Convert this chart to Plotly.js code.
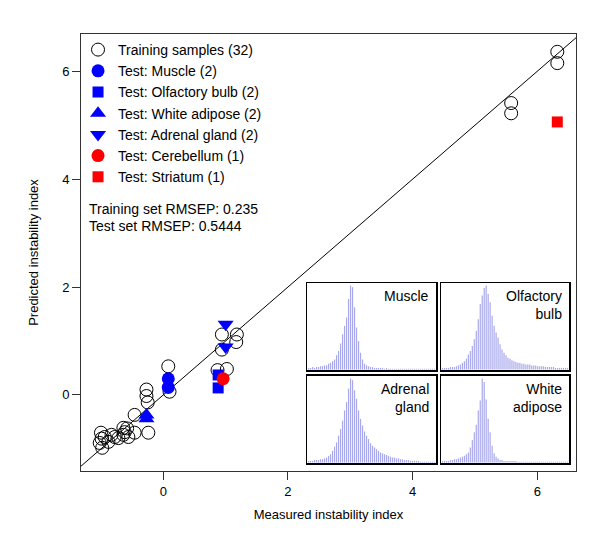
<!DOCTYPE html>
<html><head><meta charset="utf-8">
<script src="https://cdn.plot.ly/plotly-3.0.1.min.js"></script>
<style>html,body{margin:0;padding:0;background:#fff}</style>
</head><body><div id="chart" style="width:600px;height:537px"></div>
<script>
// Training samples
const trainX = [6.32, 6.32, 5.58, 5.58, 0.94, 1.18, 1.17, 0.94, 0.87, 1.02, 0.08, 0.10, -0.27, -0.27, -0.25, -0.99, -1.02, -0.98, -0.94, -0.83, -0.78, -0.88, -0.64, -0.62, -0.64, -0.56, -0.46, -0.46, -0.24, -1.00, -0.72, -0.58];
const trainY = [6.36, 6.15, 5.41, 5.22, 1.12, 1.12, 0.98, 0.84, 0.46, 0.48, 0.53, 0.06, 0.10, -0.02, -0.14, -0.81, -0.89, -0.98, -0.78, -0.74, -0.78, -0.87, -0.61, -0.69, -0.74, -0.78, -0.70, -0.37, -0.70, -0.70, -0.80, -0.62];
// Test sets
const muscleX = [0.08, 0.08];     const muscleY = [0.30, 0.14];
const olfactX = [0.88, 0.88];     const olfactY = [0.37, 0.13];
const adiposeX = [-0.27, -0.27];  const adiposeY = [-0.37, -0.44];
const adrenalX = [1.00, 1.00];    const adrenalY = [1.31, 0.89];
const cerebX = [0.96];            const cerebY = [0.30];
const striatX = [6.32];           const striatY = [5.06];
const identityLine = [-2, 8];
const rmsepLines = ['Training set RMSEP: 0.235', 'Test set RMSEP: 0.5444'];

// Inset distributions (relative heights)
const histBins = Array.from({length: 64}, (_, i) => i);
const muscleHist = [0.02,0.02,0.03,0.02,0.03,0.03,0.04,0.04,0.05,0.05,0.07,0.08,0.10,0.12,0.17,0.22,0.31,0.42,0.52,0.62,0.84,1.00,0.98,0.74,0.50,0.34,0.20,0.12,0.07,0.05,0.04,0.03,0.03,0.02,
  0.02,0.02,0.02,0.02,0.01,0.02,0.01,0.01,0.01,0.01,0.01,0.01,0.01,0.01,0.01,0.01,0.01,0.01,0.01,0.01,0.01,0.01,0.01,0.01,0.01,0.01,0.01,0.01,0.01,0.01];
const olfactHist = [0.02,0.02,0.02,0.02,0.03,0.03,0.03,0.04,0.05,0.06,0.08,0.10,0.13,0.18,0.22,0.28,0.36,0.46,0.60,0.78,0.88,0.97,1.00,0.90,0.80,0.64,0.52,0.44,0.38,0.30,0.24,0.20,0.17,0.14,0.13,0.11,0.10,0.09,0.08,0.08,0.07,0.07,0.06,0.06,0.06,0.05,0.05,0.05,0.04,0.04,0.04,0.04,0.03,0.03,0.03,0.03,0.03,0.02,0.02,0.02,0.02,0.02,0.02,0.02];
const adrenalHist = [0.02,0.02,0.02,0.03,0.03,0.03,0.04,0.04,0.05,0.06,0.08,0.10,0.14,0.19,0.24,0.32,0.40,0.50,0.62,0.72,0.88,1.00,0.98,0.86,0.76,0.62,0.52,0.44,0.37,0.32,0.28,0.23,0.20,0.18,0.16,0.14,0.12,0.11,0.10,0.09,0.08,0.07,0.06,0.06,0.05,0.05,0.04,0.04,0.03,0.03,0.03,0.02,0.02,0.02,0.02,0.02,0.01,0.01,0.01,0.01,0.01,0.01,0.01,0.01];
const adiposeHist = [0.02,0.02,0.02,0.02,0.03,0.03,0.04,0.04,0.05,0.06,0.07,0.08,0.10,0.12,0.18,0.27,0.36,0.45,0.62,0.74,1.00,0.96,0.75,0.52,0.36,0.20,0.11,0.07,0.05,0.03,0.03,0.02,
  0.02,0.02,0.02,0.02,0.02,0.02,0.01,0.01,0.01,0.01,0.01,0.01,0.01,0.01,0.01,0.01,0.01,0.01,0.01,0.01,0.01,0.01,0.01,0.01,0.01,0.01,0.01,0.01,0.01,0.01,0.01,0.01];
const insetNames = ['Muscle', 'Olfactory<br>bulb', 'Adrenal<br>gland', 'White<br>adipose'];
const insetHists = [muscleHist, olfactHist, adrenalHist, adiposeHist];

const FONT = 'Liberation Sans, Arial, sans-serif';
const traces = [
  {x: identityLine, y: identityLine, mode: 'lines', line: {color: '#000', width: 1}, showlegend: false, hoverinfo: 'skip'},
  {x: trainX, y: trainY, mode: 'markers', name: 'Training samples (32)',
   marker: {symbol: 'circle-open', size: 13, color: '#000', line: {width: 1, color: '#000'}}},
  {x: muscleX, y: muscleY, mode: 'markers', name: 'Test: Muscle (2)', marker: {symbol: 'circle', size: 13, color: '#0000ff'}},
  {x: olfactX, y: olfactY, mode: 'markers', name: 'Test: Olfactory bulb (2)', marker: {symbol: 'square', size: 11, color: '#0000ff'}},
  {x: adiposeX, y: adiposeY, mode: 'markers', name: 'Test: White adipose (2)', marker: {symbol: 'triangle-up', size: 14, color: '#0000ff'}},
  {x: adrenalX, y: adrenalY, mode: 'markers', name: 'Test: Adrenal gland (2)', marker: {symbol: 'triangle-down', size: 14, color: '#0000ff'}},
  {x: cerebX, y: cerebY, mode: 'markers', name: 'Test: Cerebellum (1)', marker: {symbol: 'circle', size: 13, color: '#ff0000'}},
  {x: striatX, y: striatY, mode: 'markers', name: 'Test: Striatum (1)', marker: {symbol: 'square', size: 11, color: '#ff0000'}}
];

const layout = {
  width: 600, height: 537,
  margin: {l: 81, r: 24, t: 34, b: 66},
  paper_bgcolor: '#fff', plot_bgcolor: '#fff',
  font: {family: FONT, size: 13, color: '#000'},
  showlegend: true,
  legend: {x: -0.006, y: 1, xanchor: 'left', yanchor: 'top', bgcolor: 'rgba(0,0,0,0)', borderwidth: 0,
           font: {family: FONT, size: 14, color: '#000'}},
  bargap: 0.4,
  xaxis: {range: [-1.32, 6.62], tickvals: [0, 2, 4, 6], ticktext: ['0','2','4','6'], ticks: 'outside', ticklen: 8,
          tickcolor: '#333', showline: true, mirror: true, linecolor: '#333', linewidth: 1, zeroline: false, showgrid: false,
          tickfont: {size: 13}, title: {text: 'Measured instability index', font: {size: 13}, standoff: 12}},
  yaxis: {range: [-1.41, 6.69], tickvals: [0, 2, 4, 6], ticktext: ['0','2','4','6'], ticks: 'outside', ticklen: 8,
          tickcolor: '#333', showline: true, mirror: true, linecolor: '#333', linewidth: 1, zeroline: false, showgrid: false,
          tickfont: {size: 13}, title: {text: 'Predicted instability index', font: {size: 13}, standoff: 20}},
  annotations: rmsepLines.map((t, i) => ({xref: 'paper', yref: 'paper', x: 0.012, y: 0.6005 - i * 0.039,
     xanchor: 'left', yanchor: 'middle', align: 'left', showarrow: false, text: t, font: {size: 14}}))
};

const xDom = [[0.4566, 0.7172], [0.7273, 0.9859], [0.4566, 0.7172], [0.7273, 0.9859]];
const yDom = [[0.2311, 0.4302], [0.2311, 0.4302], [0.0183, 0.2174], [0.0183, 0.2174]];
insetHists.forEach((h, k) => {
  const n = k + 2;
  traces.push({type: 'bar', x: histBins, y: h, xaxis: 'x' + n, yaxis: 'y' + n, showlegend: false, hoverinfo: 'skip',
               marker: {color: '#a8a8ec', line: {width: 0}}});
  layout['xaxis' + n] = {domain: xDom[k], anchor: 'y' + n, range: [-0.8, 63.8], showticklabels: false, ticks: '',
                         showgrid: false, zeroline: false, showline: true, mirror: true, linecolor: '#000', linewidth: 1.5};
  layout['yaxis' + n] = {domain: yDom[k], anchor: 'x' + n, range: [-0.005, 1.03], showticklabels: false, ticks: '',
                         showgrid: false, zeroline: false, showline: true, mirror: true, linecolor: '#000', linewidth: 1.5};
  layout.annotations.push({xref: 'x' + n + ' domain', yref: 'y' + n + ' domain', x: 0.96, y: 0.96, xanchor: 'right', yanchor: 'top',
                           align: 'right', showarrow: false, text: insetNames[k], font: {size: 14}});
});

Plotly.newPlot('chart', traces, layout, {displayModeBar: false, staticPlot: true});
</script></body></html>
